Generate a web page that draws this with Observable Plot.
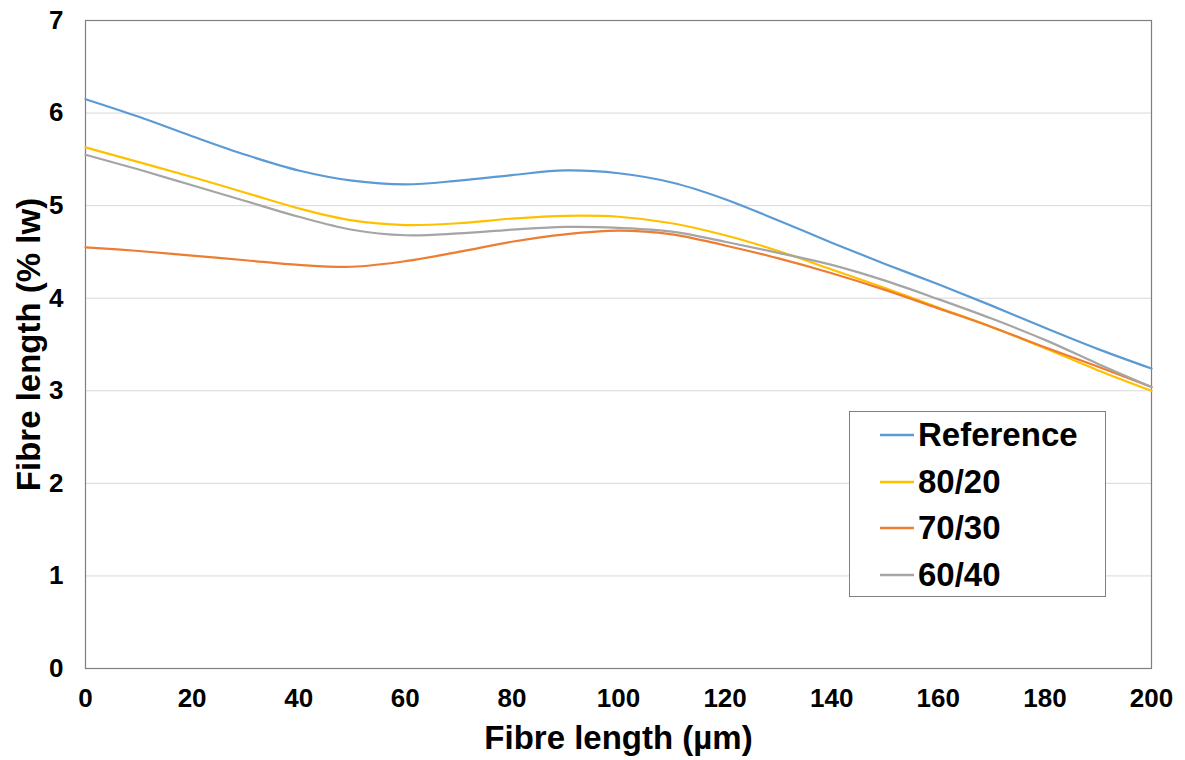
<!DOCTYPE html>
<html>
<head>
<meta charset="utf-8">
<script src="https://cdn.jsdelivr.net/npm/d3@7"></script>
<script src="https://cdn.jsdelivr.net/npm/@observablehq/plot@0.6"></script>
<style>
  html, body { margin: 0; padding: 0; background: #fff; }
  #wrap { position: relative; width: 1185px; height: 760px; font-family: "Liberation Sans", Arial, sans-serif; }
  #legend { position: absolute; left: 849px; top: 411px; width: 257px; height: 186px; border: 1px solid #808080; background: #fff; box-sizing: border-box; }
  .row { position: absolute; left: 30px; height: 40px; display: flex; align-items: center; font-weight: bold; font-size: 33px; color: #000; }
  .row svg { margin-right: 4px; }
</style>
</head>
<body>
<div id="wrap"><div id="legend"></div></div>
<script>
const lengths = [0,10,20,30,40,50,60,70,80,90,100,110,120,130,140,150,160,170,180,190,200];
const seriesNames = ["Reference", "80/20", "70/30", "60/40"];
const seriesColors = ["#5B9BD5", "#FFC000", "#ED7D31", "#A5A5A5"];
const reference = [6.15,5.96,5.75,5.55,5.38,5.27,5.23,5.27,5.33,5.38,5.35,5.25,5.07,4.84,4.60,4.37,4.15,3.92,3.68,3.45,3.24];
const blend8020  = [5.63,5.47,5.31,5.14,4.97,4.84,4.79,4.81,4.86,4.89,4.88,4.81,4.68,4.51,4.31,4.11,3.90,3.69,3.46,3.22,3.00];
const blend7030  = [4.55,4.51,4.46,4.41,4.36,4.34,4.40,4.50,4.61,4.69,4.73,4.69,4.57,4.43,4.27,4.09,3.89,3.69,3.47,3.26,3.04];
const blend6040  = [5.55,5.39,5.22,5.05,4.88,4.74,4.68,4.70,4.74,4.77,4.76,4.72,4.61,4.49,4.36,4.19,3.99,3.78,3.55,3.29,3.04];
const xTicks = [0,20,40,60,80,100,120,140,160,180,200];
const yTicks = [0,1,2,3,4,5,6,7];
const gridValues = [1,2,3,4,5,6];
const xTitle = "Fibre length (µm)";
const yTitle = "Fibre length (% lw)";

const allSeries = [reference, blend8020, blend7030, blend6040];
const data = [];
allSeries.forEach((vals, i) => vals.forEach((v, j) => data.push({series: seriesNames[i], x: lengths[j], y: v})));

const chart = Plot.plot({
  width: 1185,
  height: 760,
  marginLeft: 85,
  marginRight: 34,
  marginTop: 20,
  marginBottom: 92,
  style: {fontFamily: "'Liberation Sans', Arial, sans-serif", fontWeight: "bold", fontSize: "26px", color: "#000", background: "#fff"},
  x: {domain: [0, 200], ticks: xTicks, tickSize: 0, tickPadding: 20, tickFormat: "d", label: null},
  y: {domain: [0, 7], ticks: yTicks, tickSize: 0, tickPadding: 22, tickFormat: "d", label: null},
  color: {domain: seriesNames, range: seriesColors},
  marks: [
    Plot.ruleY(gridValues, {stroke: "#d9d9d9", strokeWidth: 1}),
    Plot.frame({stroke: "#7f7f7f", strokeWidth: 1.2}),
    Plot.line(data, {x: "x", y: "y", z: "series", stroke: "series", strokeWidth: 2.2, curve: "catmull-rom"}),
    Plot.text([xTitle], {frameAnchor: "bottom", dy: 80, text: d => d, fontSize: 33, fontWeight: "bold", fill: "#000"}),
    Plot.text([yTitle], {frameAnchor: "left", textAnchor: "middle", dx: -56, rotate: -90, text: d => d, fontSize: 33, fontWeight: "bold", fill: "#000"})
  ]
});
document.getElementById("wrap").prepend(chart);

const legend = document.getElementById("legend");
seriesNames.forEach((name, i) => {
  const row = document.createElement("div");
  row.className = "row";
  row.style.top = (3 + i * 46.5) + "px";
  row.innerHTML = `<svg width="34" height="4"><line x1="0" y1="2" x2="34" y2="2" stroke="${seriesColors[i]}" stroke-width="2.5"/></svg><span>${name}</span>`;
  legend.appendChild(row);
});
</script>
</body>
</html>
